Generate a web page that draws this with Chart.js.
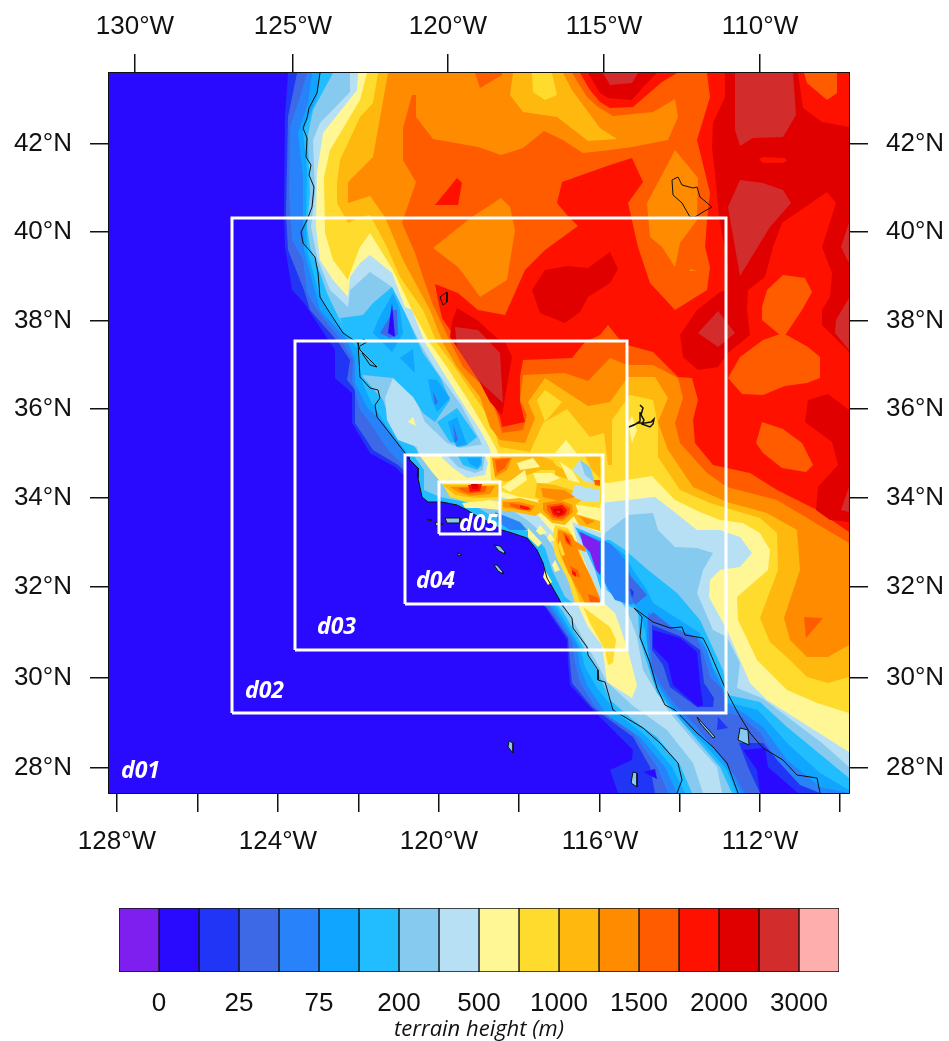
<!DOCTYPE html>
<html>
<head>
<meta charset="utf-8">
<title>WRF nested domains terrain height</title>
<script src="https://cdn.jsdelivr.net/npm/chart.js@4"></script>
<style>
  html, body { margin: 0; padding: 0; background: #fff; }
  canvas { position: absolute; left: 0; }
  #map { top: 0; }
  #bar { top: 860px; }
</style>
</head>
<body>
<canvas id="map" width="949" height="860"></canvas>
<canvas id="bar" width="949" height="181"></canvas>
<script>
// map is in model grid cells of d01 (740 x 720, Lambert), lat/lon ticks sit at projected positions
const gridWidth = 740;
const gridHeight = 720;

const bottomTicks = [8, 89, 169, 250, 330, 410, 491, 571, 651, 731];
const bottomLabels = ['128°W', '', '124°W', '', '120°W', '', '116°W', '', '112°W', ''];
const topTicks = [26, 184, 339, 495, 651];
const topLabels = ['130°W', '125°W', '120°W', '115°W', '110°W'];
const latTicks = [649, 561, 472, 384, 295, 206, 115, 25];
const latLabels = ['42°N', '40°N', '38°N', '36°N', '34°N', '32°N', '30°N', '28°N'];

const heightLabels = ['0', '25', '75', '200', '500', '1000', '1500', '2000', '3000'];
const bandColors = ['#7f1fef', '#2a0aff', '#2035f5', '#3d68e6', '#2882fa', '#10a5ff', '#22bdff', '#86caef', '#b8e0f4',
  '#fff795', '#ffdb2d', '#ffb80d', '#ff8b00', '#ff5c00', '#ff1100', '#e00000', '#d32c2c', '#ffaeae'];

// contour outlines of d01, flat x,y lists
const sea = [0,0, 740,0, 740,720, 0,720];
const contour2 = [179,720, 176,676, 175,580, 176,546, 183,503, 195,490, 226,443, 226,415, 243,400, 243,370, 261,340, 286,326, 436,186, 458,153, 459,130, 461,108, 481,86, 524,43, 523,33, 501,23, 509,0, 740,0, 740,720];
const contour3 = [188,720, 179,676, 177,580, 179,543, 195,503, 201,483, 229,451, 241,433, 238,413, 246,403, 246,370, 264,343, 289,328, 438,185, 459,155, 461,130, 463,110, 483,86, 524,56, 541,26, 546,0, 740,0, 740,720];
const contour4 = [198,720, 191,696, 181,666, 180,600, 183,553, 194,533, 198,500, 208,483, 234,450, 244,433, 243,413, 251,383, 261,370, 279,343, 294,328, 441,185, 463,151, 466,130, 471,110, 486,86, 524,60, 548,26, 559,0, 740,0, 740,720];
const contour5 = [203,720, 199,690, 189,660, 194,616, 194,573, 195,543, 203,513, 211,483, 238,453, 246,433, 246,410, 258,386, 274,370, 291,346, 299,333, 444,185, 468,148, 471,126, 479,106, 498,78, 531,56, 556,26, 568,0, 740,0, 740,720];
const contour6 = [211,720, 208,696, 194,661, 198,623, 197,576, 198,543, 209,503, 218,483, 233,463, 249,445, 251,416, 261,393, 278,366, 296,343, 303,333, 448,185, 471,146, 476,126, 488,105, 508,80, 538,56, 563,26, 576,0, 740,0, 740,720];
const contour7 = [224,720, 204,683, 199,658, 200,623, 201,600, 198,566, 201,546, 211,520, 218,500, 226,483, 236,463, 251,444, 254,416, 274,393, 281,373, 303,350, 311,338, 453,183, 476,143, 488,123, 501,93, 524,73, 548,56, 571,28, 583,0, 740,0, 740,720];
const contour8 = [241,720, 241,701, 211,670, 204,653, 206,600, 202,566, 208,536, 221,503, 239,486, 241,503, 261,521, 283,506, 296,480, 312,448, 327,423, 352,388, 371,353, 381,323, 431,273, 451,193, 459,181, 488,130, 498,111, 523,88, 558,63, 584,30, 594,0, 740,0, 740,720];
const contour9 = [249,720, 248,703, 214,660, 208,620, 207,566, 211,533, 224,513, 239,496, 241,516, 251,530, 261,538, 283,520, 296,486, 303,483, 316,450, 331,426, 356,386, 371,363, 380,346, 386,323, 491,290, 518,293, 546,296, 563,283, 588,263, 611,263, 631,256, 643,240, 631,226, 611,223, 601,213, 600,196, 618,163, 641,110, 658,93, 740,41, 740,720];
const contour10 = [258,720, 251,693, 221,643, 215,616, 216,560, 224,533, 239,513, 241,520, 251,546, 261,560, 284,523, 304,481, 321,450, 338,426, 361,390, 381,356, 388,343, 391,323, 491,311, 499,310, 543,317, 566,293, 591,281, 611,273, 634,270, 651,260, 661,243, 659,223, 628,196, 629,173, 648,133, 678,103, 708,90, 740,80, 740,720];
const contour11 = [269,720, 264,690, 251,676, 231,633, 228,610, 228,590, 239,570, 251,576, 261,578, 278,546, 291,516, 314,483, 328,450, 343,430, 368,393, 384,370, 389,350, 391,346, 421,341, 434,370, 458,384, 481,356, 495,360, 499,328, 503,328, 503,373, 521,398, 544,393, 549,368, 549,336, 571,303, 601,290, 624,283, 651,275, 668,260, 669,223, 651,175, 661,151, 681,133, 698,116, 719,110, 740,116, 740,720];
const contour12 = [279,720, 264,636, 241,613, 239,610, 239,590, 261,597, 276,576, 294,533, 321,483, 334,450, 348,426, 371,396, 381,366, 391,353, 416,350, 426,375, 419,391, 436,415, 479,387, 501,391, 519,416, 546,416, 559,395, 549,371, 559,343, 584,306, 618,291, 658,280, 688,263, 691,223, 675,175, 681,153, 698,136, 719,136, 740,148, 740,720];
const contour13 = [463,720, 478,696, 489,686, 504,677, 544,681, 566,694, 569,676, 559,653, 523,646, 501,643, 474,640, 454,653, 435,662, 414,645, 392,638, 369,646, 324,654, 307,676, 307,698, 303,698, 294,665, 294,633, 307,611, 293,570, 306,540, 316,510, 324,488, 339,456, 354,426, 378,403, 388,378, 393,360, 414,363, 418,378, 411,393, 414,418, 456,420, 479,412, 501,435, 518,428, 544,428, 569,415, 574,395, 566,370, 571,350, 598,320, 618,306, 668,293, 740,250, 740,720];
const contour14 = [598,720, 601,696, 588,653, 601,600, 598,573, 596,546, 601,526, 598,503, 566,483, 541,510, 529,546, 519,590, 534,611, 523,635, 501,628, 453,611, 448,590, 458,578, 469,567, 436,543, 416,523, 396,478, 369,483, 349,500, 326,509, 329,493, 333,475, 343,460, 368,420, 391,376, 393,366, 416,371, 411,391, 411,416, 414,433, 463,435, 476,451, 491,458, 499,468, 511,453, 518,448, 544,441, 569,416, 583,415, 589,393, 584,373, 586,350, 604,328, 641,320, 668,303, 708,283, 740,261, 740,720];
const contour15 = [616,720, 616,696, 604,670, 603,646, 606,620, 610,576, 619,526, 617,503, 611,501, 588,483, 571,458, 574,436, 589,423, 609,426, 619,440, 641,458, 638,483, 639,503, 656,516, 664,546, 673,570, 718,601, 727,590, 713,546, 723,520, 721,496, 713,483, 713,468, 740,441, 740,720];

// central valley and gulf troughs, painted lowest last
const valley6a = [283,506, 264,490, 254,478, 231,475, 236,461, 249,443, 251,417, 254,418, 284,415, 304,396, 314,380, 326,371, 341,393, 331,416, 314,440, 296,480];
const valley6b = [328,371, 348,385, 368,356, 358,348, 341,351];
const valley5a = [284,500, 269,473, 264,460, 283,441, 294,460, 291,483];
const valley5b = [291,435, 304,444, 306,420];
const valley5c = [319,414, 328,413, 341,395, 328,381, 323,393];
const valley5d = [339,371, 348,376, 358,348, 348,346, 344,353];
const valley3a = [271,460, 279,473, 284,483, 288,483, 289,458, 281,455];
const valley3c = [324,401, 329,391, 326,388];
const valley3d = [344,370, 349,353, 346,351];
const valleyDeep = [279,460, 283,490, 286,456];
const valleyFloor = [284,415, 306,395, 316,371, 338,350, 351,345, 369,348, 381,348, 381,328, 311,333, 308,346, 289,353, 278,373, 276,395];
const valleyRise = [299,371, 304,376, 307,367];

const gulf7 = [496,260, 519,278, 544,280, 549,263, 566,246, 588,245, 604,240, 594,223, 588,200, 604,163, 618,156, 631,130, 628,105, 653,95, 676,78, 713,50, 740,26, 740,0, 613,0, 608,26, 584,53, 561,80, 546,103, 534,123, 528,156, 519,180, 511,193, 497,203, 491,233];
const gulf6 = [496,253, 501,253, 516,243, 539,223, 568,200, 591,173, 614,123, 619,98, 651,91, 678,66, 740,15, 740,0, 623,0, 611,26, 588,53, 571,73, 548,100, 538,130, 530,156, 529,183, 516,188, 498,203, 491,233];
const gulf5 = [499,251, 516,238, 524,223, 538,203, 544,190, 591,160, 604,126, 614,110, 621,90, 649,83, 678,50, 711,20, 740,3, 740,0, 627,0, 618,23, 598,46, 578,66, 558,90, 544,113, 539,140, 536,163, 531,180, 524,190, 519,190, 506,203, 496,233];
const gulf4 = [539,181, 558,168, 588,156, 598,143, 604,123, 613,106, 618,90, 633,81, 654,66, 678,33, 711,6, 740,0, 632,0, 621,23, 604,46, 581,66, 561,90, 548,110, 541,126, 538,156];
const gulf4Head = [494,253, 503,248, 516,233, 523,213, 531,198, 523,188, 506,193, 494,213];
const gulf3Head = [519,220, 538,198, 526,188, 519,203];
const gulf2Head = [521,205, 525,201, 523,195];
const gulf3 = [539,176, 544,181, 564,165, 588,155, 594,140, 601,116, 614,103, 616,81, 633,76, 651,60, 668,33, 691,6, 711,0, 636,0, 624,20, 608,41, 588,66, 564,91, 551,110, 544,123, 541,146];
const gulf2North = [543,168, 573,156, 591,143, 595,110, 605,95, 604,86, 588,86, 561,106, 554,128, 543,143];
const gulf1North = [544,163, 571,155, 588,141, 591,110, 594,88, 589,86, 564,108, 559,130, 544,146];
const gulf2Mid = [609,76, 619,65, 608,63];
const gulf2South = [630,50, 654,50, 668,33, 691,8, 711,0, 651,0, 639,26];
const gulf1South = [634,43, 656,45, 659,26, 689,0, 651,0, 648,23];
const gulf1West = [534,21, 546,24, 548,14];

// smaller closed contours of d01
const baja9 = [468,190, 479,166, 493,148, 498,111, 523,95, 528,108, 518,146, 506,180, 495,190];
const baja10 = [474,186, 501,166, 507,153, 504,130, 499,128, 496,143, 481,170];
const sierra9 = [446,340, 457,353, 469,338];
const salton9 = [519,370, 523,377, 528,363, 523,350];
const mojave10 = [428,393, 436,403, 453,391, 436,371];
const nevada12 = [324,545, 359,573, 366,578, 392,595, 401,586, 406,563, 398,513, 371,496, 361,510, 349,526];
const utah12 = [566,643, 589,615, 588,573, 571,550, 566,526, 553,546, 541,556, 538,590, 554,620];
const utahSpeck12 = [581,524, 588,522, 581,522];
const idaho11 = [404,720, 401,698, 414,681, 448,676, 479,652, 508,654, 491,665, 463,703, 454,720];
const idaho10 = [423,720, 424,701, 436,693, 448,698, 443,720];
const idaho13 = [366,720, 371,705, 393,718, 393,720];
const oregon14 = [326,588, 348,615, 353,610, 349,588];
const wyoming14 = [471,720, 481,703, 491,691, 501,685, 524,686, 553,711, 568,720];
const wyoming15 = [479,720, 491,700, 499,695, 523,693, 536,708, 548,720];
const wyoming16 = [494,720, 501,708, 523,710, 529,720];
const sierra15 = [343,471, 348,485, 368,473, 388,455, 396,451, 403,436, 399,413, 393,378, 381,391, 368,416, 341,456];
const sierra16 = [346,466, 369,463, 391,440, 394,390, 369,413, 348,446];
const nevada15 = [423,503, 436,523, 459,527, 479,525, 501,541, 509,524, 501,510, 479,496, 471,481, 456,470, 431,480];
const arizona15 = [696,371, 699,393, 719,399, 740,383, 740,271, 721,273, 707,283, 709,306, 729,328, 723,351];
const corner14 = [689,720, 694,685, 713,671, 740,666, 740,720];
const corner13 = [695,720, 698,710, 718,693, 728,700, 728,720];
const rockies16a = [589,460, 609,482, 626,460, 609,446];
const rockies16b = [626,720, 626,663, 631,647, 644,655, 674,656, 687,678, 684,720];
const rockies16c = [631,613, 654,610, 674,603, 682,590, 661,566, 631,517, 619,586];
const rockies16d = [740,570, 732,546, 740,530];
const rockies16e = [740,495, 727,473, 726,460, 740,443];
const rockies16f = [740,306, 732,283, 740,281];
const rockies14 = [650,634, 654,636, 676,635, 678,632, 674,630, 654,630];
const plateau13a = [658,503, 674,518, 696,515, 703,501, 693,483, 677,459, 671,458, 653,473, 653,486];
const plateau13b = [619,415, 631,436, 654,453, 674,460, 699,446, 711,436, 711,415, 698,410, 676,407, 654,398, 633,399];
const plateau13c = [653,371, 674,364, 693,350, 704,328, 697,321, 673,325, 654,340, 647,350];
const sonora13 = [695,176, 714,175, 697,155];

// d04 inner terrain, overlaid on the coarse field
const fineBase = [296,189, 494,189, 494,338, 296,338];
const fineSea = [296,338, 301,338, 301,333, 309,325, 309,315, 313,296, 319,291, 333,291, 348,288, 358,283, 366,278, 376,273, 393,263, 403,260, 418,255, 428,243, 434,230, 438,215, 449,196, 453,189, 296,189];
const fine7 = [305,337, 315,323, 315,303, 331,296, 361,290, 381,278, 401,268, 421,261, 436,245, 443,223, 456,196, 464,190, 494,190, 494,337];
const fineShelf = [386,281, 411,271, 418,263, 401,263, 389,271];
const fine8 = [313,337, 326,318, 343,305, 369,299, 396,287, 418,273, 439,255, 451,233, 461,208, 474,190, 494,190, 494,337];
const fine9 = [321,337, 334,318, 361,305, 396,295, 426,281, 446,258, 459,233, 471,208, 484,190, 494,190, 494,337];
const fineStrip9 = [311,337, 323,337, 339,315, 351,311, 336,306, 323,321];
const fineBelt9 = [353,290, 381,293, 403,288, 411,281, 391,283, 371,285, 356,285];
const fineBasin8 = [333,335, 344,325, 358,315, 376,318, 379,330, 376,337, 333,337];
const fineBasin7 = [339,337, 349,326, 366,320, 374,323, 376,337];
const fineBasin6 = [349,337, 354,328, 368,323, 373,328, 373,337];
const fineBasin5 = [358,335, 361,329, 369,325, 372,331, 371,335];
const fineDesert8 = [463,271, 492,260, 492,191, 488,193, 479,223, 469,248];
const fineDesert6 = [466,266, 492,255, 492,203, 486,223, 476,245];
const fineDesert4 = [469,262, 492,252, 492,218, 486,233, 476,248];
const fineDesert0 = [471,261, 491,251, 491,218, 487,223, 481,241, 474,248];
const fineNorth10 = [381,337, 382,313, 388,303, 411,296, 431,293, 454,290, 469,288, 491,285, 494,303, 494,337];
const fineWest10 = [333,310, 391,310, 391,293, 361,290, 341,296];
const fineRidge10 = [446,268, 459,265, 469,248, 476,228, 488,203, 491,190, 466,190, 459,213, 446,238, 443,255];
const fineNorth11 = [391,337, 431,337, 443,333, 451,323, 431,323, 411,315, 396,311, 386,315];
const fineMiddle11 = [428,310, 446,308, 463,303, 473,293, 466,288, 441,290, 426,296];
const fineUpper11 = [446,328, 466,318, 463,312, 446,318];
const fineEast11 = [476,337, 491,337, 491,315, 483,323];
const fineRight11 = [463,280, 491,272, 491,262, 470,268];
const fineWest11 = [334,308, 391,308, 389,296, 366,295, 346,298];
const fineBelt11 = [391,293, 411,295, 431,290, 436,283, 426,277, 406,281, 391,283];
const fineCore11 = [429,293, 449,296, 466,290, 469,281, 456,268, 443,270, 431,281];
const fineRidge11 = [449,265, 459,262, 466,248, 473,228, 486,203, 491,191, 471,191, 463,213, 451,238, 447,253];
const fineBranch12 = [461,255, 476,246, 477,241, 463,246];
const fineNorth12 = [383,335, 403,335, 398,323, 386,316];
const fineMiddle12 = [432,305, 455,303, 466,296, 450,292, 434,296];
const fineRight12 = [470,277, 486,272, 478,268];
const fineWest12 = [341,306, 386,307, 381,299, 361,297, 349,301];
const fineBelt12 = [394,291, 411,291, 426,287, 421,281, 406,284, 394,286];
const fineCore12 = [434,290, 451,293, 463,288, 464,281, 454,272, 443,273, 434,283];
const fineRidgeWide12 = [449,263, 463,258, 471,238, 481,218, 491,195, 491,190, 476,190, 466,208, 456,228, 449,248];
const fineRidge12a = [451,263, 461,258, 466,243, 459,243, 453,253];
const fineRidge12b = [456,233, 469,228, 476,213, 469,208, 459,221];
const fineRidge12c = [474,203, 486,201, 491,191, 476,191];
const fineNorth13 = [386,333, 401,335, 396,325, 388,320];
const fineEast13 = [485,313, 491,313, 491,307, 486,308];
const fineWest13 = [349,305, 378,307, 376,301, 361,299, 353,302];
const fineBelt13 = [401,290, 419,287, 423,283, 413,283, 401,287];
const fineCore13 = [438,288, 453,290, 461,285, 460,279, 453,274, 444,275, 438,283];
const fineRidge13a = [454,261, 461,256, 463,246, 457,250];
const fineRidge13b = [461,227, 469,223, 471,215, 464,218];
const fineRidge13c = [479,199, 488,196, 491,191, 481,191];
const fineWest14 = [359,308, 373,309, 371,302, 361,301];
const fineBelt14 = [411,288, 421,285, 419,283, 411,285];
const fineCore14 = [441,286, 453,288, 458,283, 456,278, 449,276, 444,278];
const fineRidge14a = [456,258, 460,253, 461,248, 457,253];
const fineRidge14b = [463,223, 467,220, 467,216, 463,219];
const fineWest15 = [362,309, 369,309, 369,304, 363,304];
const fineCore15 = [444,284, 452,285, 455,281, 451,278, 446,280];
const fineCore16 = [447,282, 451,282, 451,280, 448,280];
const fineStreakA = [393,306, 416,323, 418,313, 401,301];
const fineStreakB = [424,320, 443,320, 451,315, 439,310, 428,310];
const fineStreakC = [431,268, 438,260, 431,258, 427,262];
const fineStreakD = [419,265, 433,250, 429,246, 419,256];
const fineStreakE = [408,330, 424,335, 431,326, 411,323];
const fineStreakF = [451,331, 463,323, 471,310, 459,313];
const fineStreakG = [441,260, 446,253, 441,251, 438,255];
const fineStreakH = [446,233, 451,223, 446,221, 443,228];
const fineStreakI = [436,223, 443,211, 439,208, 434,216];
const fineStreakJ = [451,253, 456,238, 453,237, 449,248];
const finePaleA = [466,308, 491,303, 491,291, 476,291, 462,297];
const finePaleB = [463,323, 471,333, 484,310, 476,311];
const finePaleC = [471,333, 481,326, 486,310, 476,318];

// coastlines, islands, lakes
const coastPacific = [211,720, 208,700, 200,685, 198,675, 194,665, 198,655, 197,636, 202,628, 200,618, 205,606, 203,586, 198,573, 192,561, 194,550, 206,536, 209,520, 211,496, 219,483, 234,460, 249,450, 251,416, 261,405, 269,403, 271,395, 266,388, 268,376, 286,353, 296,340, 301,333, 309,325, 309,315, 313,296, 319,291, 333,291, 348,288, 358,283, 366,278, 376,273, 393,263, 403,260, 418,255, 428,243, 434,230, 438,215, 449,196, 453,188, 463,175, 464,165, 478,146, 479,138, 489,123, 489,113, 496,111, 504,83, 524,71, 534,65, 551,50, 569,30, 573,13, 568,0];
const coastBay = [249,450, 251,443, 254,440, 268,426, 261,428, 253,440];
const coastBayNorth = [249,450, 255,454, 258,451, 251,447];
const coastGulfWest = [525,185, 533,176, 531,156, 541,130, 548,105, 556,88, 566,83, 588,60, 604,46, 618,30, 629,0];
const coastGulfEast = [525,185, 544,171, 561,165, 573,166, 576,158, 594,155, 599,145, 614,110, 621,95, 629,80, 641,60, 654,45, 674,33, 688,18, 708,15, 711,0];
const saltonOutline = [531,388, 534,385, 532,378, 535,373, 533,369, 541,366, 544,369, 545,374, 542,371, 536,370, 529,370, 520,366, 525,368, 531,372, 531,381];
const islands = [
  [336,275, 351,275, 351,270, 338,270],
  [318,274, 323,273, 319,272],
  [326,271, 334,269, 327,267],
  [349,240, 353,238, 349,237],
  [385,248, 391,247, 396,241, 396,239, 390,242],
  [385,228, 388,228, 394,221, 394,219, 389,222],
  [588,76, 606,56, 604,55, 591,70],
  [631,65, 639,63, 640,48, 629,53],
  [400,52, 404,50, 404,40, 399,46],
  [524,21, 528,20, 528,6, 522,10]
];
const lakes = [
  [331,496, 338,501, 338,491, 334,488],
  [563,613, 569,616, 573,608, 584,605, 588,606, 591,596, 603,586, 594,581, 586,576, 581,576, 573,590, 564,598]
];

// nested domain boxes and where their names sit
const domainNames = ['d01', 'd02', 'd03', 'd04', 'd05'];
const domainBoxes = [[123,80,617,575], [186,143,518,452], [296,189,494,338], [330,259,391,311]];
const domainLabelAt = [[12,22], [136,102], [208,166], [307,212], [350,269]];

const pts = flat => {
    const out = [];
    for (let i = 0; i < flat.length; i += 2) out.push({ x: flat[i], y: flat[i + 1] });
    out.push({ x: flat[0], y: flat[1] });
    return out;
};

// paint order, low to high, holes afterwards
const layers = [
    [sea, 1], [contour2, 2], [contour3, 3], [contour4, 4], [contour5, 5], [contour6, 6], [contour7, 7], [contour8, 8],
    [valleyFloor, 8], [valleyRise, 9],
    [valley6a, 6], [valley6b, 6], [valley5a, 5], [valley5b, 5], [valley5c, 5], [valley5d, 5],
    [valley3a, 3], [valley3c, 3], [valley3d, 3], [valleyDeep, 1],
    [gulf7, 7], [gulf6, 6], [gulf5, 5], [gulf4, 4], [gulf4Head, 4], [gulf3Head, 3], [gulf2Head, 2],
    [gulf3, 3], [gulf2North, 2], [gulf1North, 1], [gulf2Mid, 2], [gulf2South, 2], [gulf1South, 1], [gulf1West, 1],
    [contour9, 9], [baja9, 9], [contour10, 10], [baja10, 10], [contour11, 11], [contour12, 12],
    [sierra9, 9], [salton9, 9], [mojave10, 10],
    [contour13, 13], [idaho13, 13], [nevada12, 12], [utah12, 12], [utahSpeck12, 12], [idaho11, 11], [idaho10, 10],
    [contour14, 14], [oregon14, 14], [wyoming14, 14], [wyoming15, 15], [wyoming16, 16],
    [contour15, 15], [sierra15, 15], [sierra16, 16], [nevada15, 15], [arizona15, 15],
    [corner14, 14], [corner13, 13], [rockies16a, 16], [rockies16b, 16], [rockies16c, 16], [rockies16d, 16], [rockies16e, 16], [rockies16f, 16],
    [rockies14, 14], [plateau13a, 13], [plateau13b, 13], [plateau13c, 13], [sonora13, 13],
    [fineBase, 6], [fineSea, 1], [fine7, 7], [fineShelf, 4], [fine8, 8], [fine9, 9], [fineStrip9, 9],
    [fineDesert8, 8], [fineDesert6, 6], [fineDesert4, 4], [fineDesert0, 0],
    [fineNorth10, 10], [fineWest10, 10], [fineRidge10, 10], [fineBelt9, 9],
    [fineBasin8, 8], [fineBasin7, 7], [fineBasin6, 6], [fineBasin5, 5],
    [fineNorth11, 11], [fineMiddle11, 11], [fineUpper11, 11], [fineEast11, 11], [fineRight11, 11], [fineWest11, 11], [fineBelt11, 11], [fineCore11, 11], [fineRidge11, 11],
    [fineStreakA, 9], [fineStreakB, 9], [fineStreakC, 9], [fineStreakD, 9], [fineStreakE, 9], [fineStreakF, 9], [fineStreakG, 9], [fineStreakH, 9], [fineStreakI, 9],
    [finePaleA, 8], [finePaleB, 8], [finePaleC, 7],
    [fineRidgeWide12, 12], [fineStreakJ, 10],
    [fineBranch12, 12], [fineNorth12, 12], [fineMiddle12, 12], [fineRight12, 12], [fineWest12, 12], [fineBelt12, 12], [fineCore12, 12], [fineRidge12a, 12], [fineRidge12b, 12], [fineRidge12c, 12],
    [fineNorth13, 13], [fineEast13, 13], [fineWest13, 13], [fineBelt13, 13], [fineCore13, 13], [fineRidge13a, 13], [fineRidge13b, 13], [fineRidge13c, 13],
    [fineWest14, 14], [fineBelt14, 14], [fineCore14, 14], [fineRidge14a, 14], [fineRidge14b, 14],
    [fineWest15, 15], [fineCore15, 15], [fineCore16, 16]
];

const fillSet = ([flat, band]) => ({
    data: pts(flat),
    showLine: true,
    fill: 'shape',
    backgroundColor: bandColors[band],
    borderColor: bandColors[band],
    borderWidth: 0,
    pointRadius: 0
});
const lineSet = (flat, closed, color, width, fillColor) => ({
    data: closed ? pts(flat) : pts(flat).slice(0, -1),
    showLine: true,
    fill: fillColor ? 'shape' : false,
    backgroundColor: fillColor || 'transparent',
    borderColor: color,
    borderWidth: width,
    pointRadius: 0
});
const boxSet = box => lineSet([box[0], box[1], box[2], box[1], box[2], box[3], box[0], box[3]], true, '#fff', 3);

const datasets = [
    ...layers.map(fillSet),
    lineSet(coastPacific, false, '#111', 1),
    lineSet(coastBay, false, '#111', 1),
    lineSet(coastBayNorth, false, '#111', 1),
    lineSet(coastGulfWest, false, '#111', 1),
    lineSet(coastGulfEast, false, '#111', 1),
    lineSet(saltonOutline, false, '#111', 1.5),
    ...islands.map(i => lineSet(i, true, '#111', 1, bandColors[7])),
    ...lakes.map(l => lineSet(l, true, '#111', 1)),
    ...domainBoxes.map(boxSet)
].reverse(); // chart.js paints the first dataset last

const tickFont = { family: '"Liberation Sans", Arial, sans-serif', size: 26 };

const axisBase = {
    type: 'linear',
    grid: { drawOnChartArea: false, color: '#111', lineWidth: 1.5, tickLength: 19, drawTicks: true },
    border: { display: true, color: '#111', width: 2 }
};
const makeAxis = (position, min, max, values, labels, size, padding) => ({
    ...axisBase,
    position,
    min,
    max,
    afterBuildTicks: scale => { scale.ticks = values.map(value => ({ value })); },
    afterFit: scale => {
        if (position === 'left' || position === 'right') scale.width = size; else scale.height = size;
    },
    ticks: {
        autoSkip: false,
        maxRotation: 0,
        padding,
        color: '#111',
        font: tickFont,
        callback: value => labels[values.indexOf(value)]
    }
});

const domainText = {
    id: 'domainText',
    afterDatasetsDraw(chart) {
        const { ctx, scales } = chart;
        ctx.save();
        ctx.fillStyle = '#fff';
        ctx.font = 'italic bold 23px "Open Sans", sans-serif';
        ctx.textBaseline = 'middle';
        domainNames.forEach((name, i) => {
            ctx.fillText(name, scales.x.getPixelForValue(domainLabelAt[i][0]), scales.y.getPixelForValue(domainLabelAt[i][1]));
        });
        ctx.restore();
    }
};

new Chart(document.getElementById('map'), {
    type: 'scatter',
    data: { datasets },
    plugins: [domainText],
    options: {
        responsive: false,
        animation: false,
        layout: { padding: 0 },
        plugins: { legend: { display: false }, tooltip: { enabled: false } },
        elements: { line: { tension: 0 } },
        scales: {
            x: makeAxis('bottom', 0, gridWidth, bottomTicks, bottomLabels, 67, 14),
            xTop: makeAxis('top', 0, gridWidth, topTicks, topLabels, 73, 12),
            y: makeAxis('left', 0, gridHeight, latTicks, latLabels, 109, 18),
            yRight: makeAxis('right', 0, gridHeight, latTicks, latLabels, 100, 18)
        }
    }
});

// colour bar: one stacked bar with a segment per band
new Chart(document.getElementById('bar'), {
    type: 'bar',
    data: {
        labels: ['terrain'],
        datasets: bandColors.map(color => ({
            data: [1],
            backgroundColor: color,
            borderColor: '#111',
            borderWidth: 1,
            borderSkipped: false,
            barPercentage: 1,
            categoryPercentage: 1
        }))
    },
    options: {
        indexAxis: 'y',
        responsive: false,
        animation: false,
        layout: { padding: { left: 119, right: 110, top: 48, bottom: 0 } },
        plugins: { legend: { display: false }, tooltip: { enabled: false } },
        scales: {
            y: { stacked: true, display: false },
            x: {
                stacked: true,
                min: 0,
                max: bandColors.length,
                grid: { display: false, drawTicks: false },
                border: { display: false },
                afterBuildTicks: scale => { scale.ticks = heightLabels.map((_, i) => ({ value: 2 * i + 1 })); },
                afterFit: scale => { scale.height = 69; },
                ticks: {
                    autoSkip: false,
                    maxRotation: 0,
                    padding: 16,
                    color: '#111',
                    font: tickFont,
                    callback: value => heightLabels[(value - 1) / 2]
                },
                title: {
                    display: true,
                    text: 'terrain height (m)',
                    color: '#111',
                    padding: { top: 0, bottom: -2 },
                    font: { family: '"Open Sans", sans-serif', style: 'italic', size: 22 }
                }
            }
        }
    }
});
</script>
</body>
</html>
